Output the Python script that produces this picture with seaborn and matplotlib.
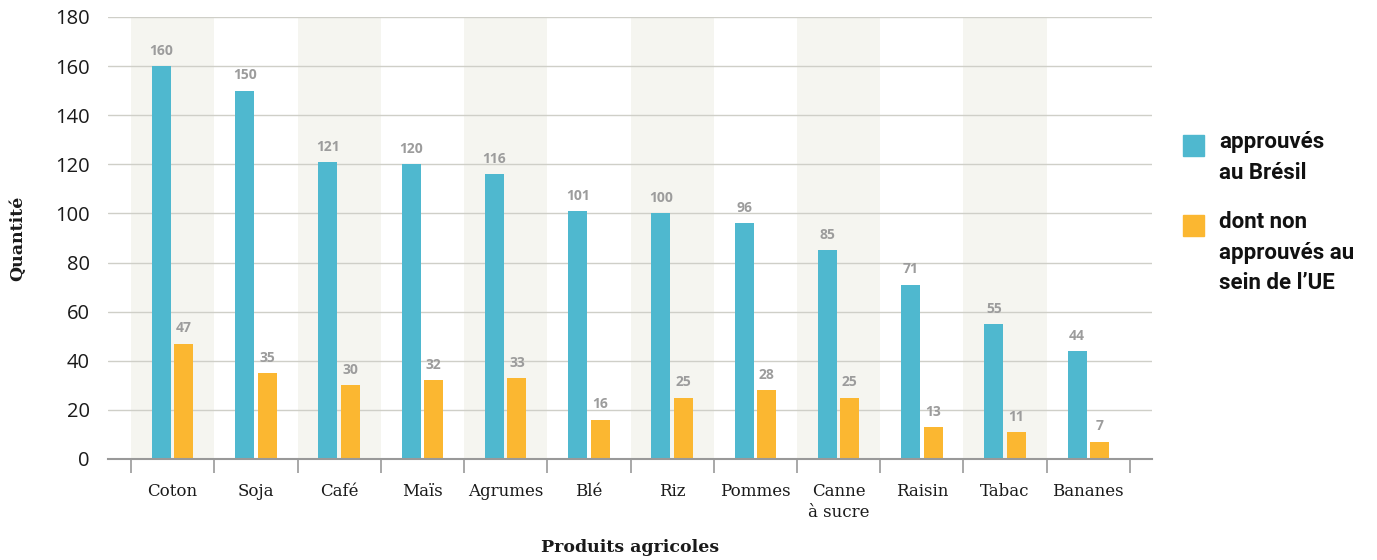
import matplotlib
matplotlib.use("Agg")
import matplotlib.pyplot as plt
import seaborn as sns
import pandas as pd
from matplotlib.patches import Rectangle

categories = ["Coton", "Soja", "Café", "Maïs", "Agrumes", "Blé", "Riz", "Pommes",
              "Canne\nà sucre", "Raisin", "Tabac", "Bananes"]
approuves_bresil = [160, 150, 121, 120, 116, 101, 100, 96, 85, 71, 55, 44]
non_approuves_ue = [47, 35, 30, 32, 33, 16, 25, 28, 25, 13, 11, 7]
series_names = ["approuvés\nau Brésil", "dont non\napprouvés au\nsein de l’UE"]
y_ticks = [0, 20, 40, 60, 80, 100, 120, 140, 160, 180]

colors = ["#4FB8CF", "#FBB731"]

df = pd.DataFrame({
    "cat": categories * 2,
    "val": approuves_bresil + non_approuves_ue,
    "serie": [series_names[0]] * len(categories) + [series_names[1]] * len(categories),
})

sns.set_theme(style="white")
fig = plt.figure(figsize=(13.77, 5.6), dpi=100)
ax = fig.add_axes([108 / 1377, 1 - 459 / 560, (1152 - 108) / 1377, (459 - 17) / 560])

n = len(categories)
for i in range(0, n, 2):
    ax.axvspan(i - 0.5, i + 0.5, color="#F5F5F0", zorder=0, lw=0)

for t in y_ticks[1:]:
    ax.axhline(t, color="#CFCFC8", lw=1, zorder=1)

sns.barplot(data=df, x="cat", y="val", hue="serie", palette=colors, width=0.54, gap=0.15,
            ax=ax, legend=False, zorder=3, saturation=1, linewidth=0, edgecolor="none")

for cont in ax.containers:
    ax.bar_label(cont, padding=6, color="#9C9C9C", fontsize=10, fontweight="bold",
                 family="Open Sans")

ax.set_xlim(-0.5 - 23 / 83, n - 0.5 + 22 / 83)
ax.set_ylim(0, 180)
ax.set_yticks(y_ticks)
ax.set_yticklabels([str(t) for t in y_ticks], fontsize=14.5, family="Open Sans", color="#1a1a1a")
ax.tick_params(axis="y", length=0, pad=13)

ax.set_xticks([i - 0.5 for i in range(n + 1)])
ax.set_xticklabels([""] * (n + 1))
ax.tick_params(axis="x", which="major", bottom=True, length=10, width=1.2, color="#999999",
               direction="out")
ax.set_xticks(range(n), minor=True)
ax.set_xticklabels(categories, minor=True, fontsize=12, family="DejaVu Serif", color="#1a1a1a",
                   linespacing=1.3)
ax.tick_params(axis="x", which="minor", bottom=True, length=0, pad=17)
for lab in ax.get_xticklabels(minor=True):
    lab.set_verticalalignment("top")

for s in ["top", "right", "left"]:
    ax.spines[s].set_visible(False)
ax.spines["bottom"].set_color("#999999")
ax.spines["bottom"].set_linewidth(1.5)
ax.spines["bottom"].set_zorder(4)

ax.set_xlabel("")
ax.set_ylabel("")
fig.text(630 / 1377, 1 - 548 / 560, "Produits agricoles", ha="center", va="center",
         fontsize=12.5, fontweight="bold", family="DejaVu Serif", color="#1a1a1a")
fig.text(18 / 1377, 1 - 238 / 560, "Quantité", ha="center", va="center", rotation=90,
         fontsize=12.5, fontweight="bold", family="DejaVu Serif", color="#1a1a1a")

# legend
legend_y = [135, 215]
for c, lab, y0 in zip(colors, series_names, legend_y):
    fig.patches.append(Rectangle((1183 / 1377, 1 - (y0 + 21) / 560), 21 / 1377, 21 / 560,
                                 transform=fig.transFigure, color=c, figure=fig))
    fig.text(1219 / 1377, 1 - (y0 - 4) / 560, lab, ha="left", va="top", fontsize=16,
             fontweight="bold", family="Roboto", color="#111111", linespacing=1.5)

fig.savefig("out.png", dpi=100)
